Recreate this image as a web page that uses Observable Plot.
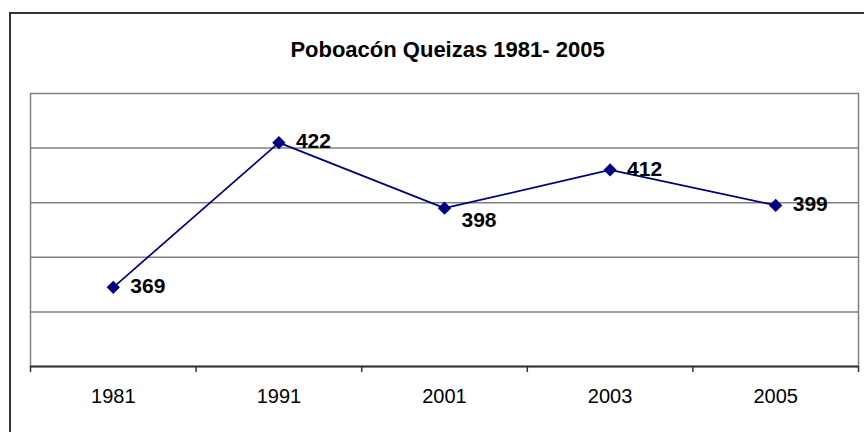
<!DOCTYPE html>
<html>
<head>
<meta charset="utf-8">
<script src="https://cdn.jsdelivr.net/npm/d3@7"></script>
<script src="https://cdn.jsdelivr.net/npm/@observablehq/plot@0.6"></script>
<style>
  html, body { margin: 0; padding: 0; background: #fff; overflow: hidden; }
  #wrap { position: relative; width: 864px; height: 432px; overflow: hidden; font-family: Arial, "Liberation Sans", sans-serif; }
  #border { position: absolute; left: 9px; top: 12px; width: 1000px; height: 1000px; border: 2px solid #333; box-sizing: border-box; }
  #chart { position: absolute; left: 0; top: 0; }
</style>
</head>
<body>
<div id="wrap"><div id="border"></div><div id="chart"></div></div>
<script>
const title = "Poboacón Queizas 1981- 2005";
const years = ["1981", "1991", "2001", "2003", "2005"];
const population = [369, 422, 398, 412, 399];
const gridValues = [360, 380, 400, 420];

const data = years.map((y, i) => ({i, year: y, value: population[i]}));
const boundaries = d3.range(-0.5, years.length, 1);

const plot = Plot.plot({
  width: 864,
  height: 432,
  marginLeft: 30,
  marginRight: 6,
  marginTop: 93,
  marginBottom: 66,
  style: {fontFamily: "Arial, 'Liberation Sans', sans-serif", background: "transparent", overflow: "visible"},
  x: {domain: [-0.5, years.length - 0.5], axis: null, label: null},
  y: {domain: [340, 440], axis: null, label: null},
  marks: [
    Plot.frame({stroke: "#808080", strokeWidth: 1.5}),
    Plot.ruleY(gridValues, {stroke: "#808080", strokeWidth: 1.5}),
    Plot.ruleY([340], {stroke: "#333", strokeWidth: 2}),
    Plot.axisX({ticks: boundaries, tickFormat: () => "", tickSize: 6, stroke: "#333", strokeWidth: 1.5, label: null}),
    Plot.axisX({ticks: d3.range(years.length), tickFormat: i => years[i], tickSize: 0, tickPadding: 22, fontSize: 20, fill: "#000", label: null}),
    Plot.line(data, {x: "i", y: "value", stroke: "#000080", strokeWidth: 1.7}),
    Plot.dot(data, {x: "i", y: "value", symbol: "diamond2", r: 6, fill: "#000080", stroke: "none"}),
    Plot.text(data.filter(d => d.year !== "2001"), {x: "i", y: "value", text: d => String(d.value), dx: 17, dy: -1, textAnchor: "start", fontSize: 21, fontWeight: "bold", fill: "#000"}),
    Plot.text(data.filter(d => d.year === "2001"), {x: "i", y: "value", text: d => String(d.value), dx: 17, dy: 12, textAnchor: "start", fontSize: 21, fontWeight: "bold", fill: "#000"}),
    Plot.text([title], {frameAnchor: "top", dx: 3, dy: -52, text: d => d, fontSize: 22, fontWeight: "bold", fill: "#000"})
  ]
});
document.getElementById("chart").appendChild(plot);
</script>
</body>
</html>
